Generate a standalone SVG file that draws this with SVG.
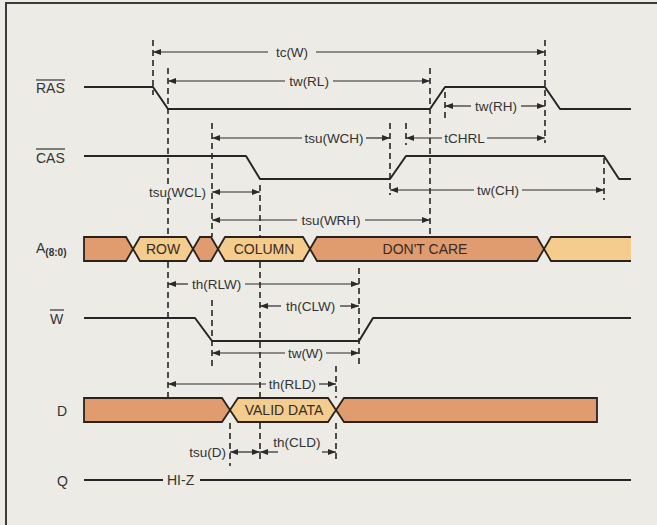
<svg xmlns="http://www.w3.org/2000/svg" width="657" height="525" viewBox="0 0 657 525">
<defs>
<marker id="ah" viewBox="0 0 8 6" refX="8" refY="3" markerWidth="8" markerHeight="6" markerUnits="userSpaceOnUse" orient="auto-start-reverse">
<path d="M0,0 L8,3 L0,6 z" fill="#2a2a2a"/>
</marker>
<style>
.sig{fill:none;stroke:#262626;stroke-width:2;stroke-linejoin:round}
.dash{fill:none;stroke:#262626;stroke-width:1.6;stroke-dasharray:6 4}
.dim{fill:none;stroke:#2a2a2a;stroke-width:1.2}
.ms{marker-start:url(#ah)}
.me{marker-end:url(#ah)}
.lbl{font-family:"Liberation Sans",Arial,sans-serif;font-size:14px;fill:#333}
.tl{font-family:"Liberation Sans",Arial,sans-serif;font-size:13.5px;fill:#333}
.bl{font-family:"Liberation Sans",Arial,sans-serif;font-size:14px;fill:#3a2a20;text-anchor:middle}
.dk{fill:#e09b6e;stroke:#2a221c;stroke-width:1.8;stroke-linejoin:miter}
.lt{fill:#f3cc8e;stroke:#2a221c;stroke-width:1.8;stroke-linejoin:miter}
.ov{stroke:#333;stroke-width:1.2}
.bg{fill:#ecebe6}
</style>
</defs>
<rect x="0" y="0" width="657" height="525" fill="#ecebe6"/>
<path d="M6,525 L6,3 L657,3" fill="none" stroke="#3a3a3a" stroke-width="2"/>

<g id="labels">
<g id="lbl-ras"><text class="lbl" x="36" y="93">RAS</text><line class="ov" x1="36" y1="80" x2="65" y2="80"/></g>
<g id="lbl-cas"><text class="lbl" x="36" y="163">CAS</text><line class="ov" x1="36" y1="149" x2="65" y2="149"/></g>
<g id="lbl-a"><text class="lbl" x="36" y="253">A<tspan font-size="10" font-weight="bold" dy="3">(8:0)</tspan></text></g>
<g id="lbl-w"><text class="lbl" x="50" y="324">W</text><line class="ov" x1="50" y1="310" x2="64" y2="310"/></g>
<g id="lbl-d"><text class="lbl" x="57" y="416">D</text></g>
<g id="lbl-q"><text class="lbl" x="57" y="486">Q</text></g>
</g>

<g id="sig-ras"><path class="sig" d="M84,87 L153,87 L168,109 L430,109 L445,87 L545,87 L560,109 L631,109"/></g>
<g id="sig-cas"><path class="sig" d="M84,156 L246,156 L260,179 L390,179 L406,156 L604,156 L619,179 L631,179"/></g>
<g id="sig-w"><path class="sig" d="M84,318 L195,318 L212,341 L359,341 L373,318 L631,318"/></g>
<g id="sig-q"><path class="sig" d="M84,480 L163,480 M200,480 L631,480" stroke-width="1.8"/><text class="lbl" x="167" y="485">HI-Z</text></g>

<g id="bus-a">
<polygon class="dk" points="84,237 126,237 133,249 126,261 84,261"/>
<polygon class="lt" points="133,249 140,237 186,237 193,249 186,261 140,261"/>
<polygon class="dk" points="193,249 200,237 211,237 218,249 211,261 200,261"/>
<polygon class="lt" points="218,249 225,237 303,237 310,249 303,261 225,261"/>
<polygon class="dk" points="310,249 317,237 537,237 544,249 537,261 317,261"/>
<polygon points="544,249 551,237 631,237 631,261 551,261" fill="#f3cc8e"/>
<path d="M631,237 L551,237 L544,249 L551,261 L631,261" fill="none" stroke="#2a221c" stroke-width="1.8"/>
<text class="bl" x="163" y="254">ROW</text>
<text class="bl" x="264" y="254">COLUMN</text>
<text class="bl" x="425" y="254">DON'T CARE</text>
</g>

<g id="bus-d">
<polygon class="dk" points="84,398 222,398 230,410 222,422 84,422"/>
<polygon class="lt" points="230,410 238,398 328,398 336,410 328,422 238,422"/>
<polygon class="dk" points="336,410 344,398 597,398 597,422 344,422"/>
<text class="bl" x="284" y="415">VALID DATA</text>
</g>

<g id="connectors">
<g id="dashes">
<line class="dash" x1="153" y1="40" x2="153" y2="95"/>
<line class="dash" x1="168" y1="68" x2="168" y2="237"/>
<line class="dash" x1="168" y1="262" x2="168" y2="398"/>
<line class="dash" x1="212" y1="123" x2="212" y2="237"/>
<line class="dash" x1="212" y1="300" x2="212" y2="370"/>
<line class="dash" x1="260" y1="185" x2="260" y2="237"/>
<line class="dash" x1="260" y1="262" x2="260" y2="398"/>
<line class="dash" x1="260" y1="423" x2="260" y2="460"/>
<line class="dash" x1="390" y1="123" x2="390" y2="195"/>
<line class="dash" x1="406" y1="123" x2="406" y2="145"/>
<line class="dash" x1="430" y1="68" x2="430" y2="237"/>
<line class="dash" x1="445" y1="92" x2="445" y2="120"/>
<line class="dash" x1="545" y1="40" x2="545" y2="143"/>
<line class="dash" x1="604" y1="158" x2="604" y2="200"/>
<line class="dash" x1="359" y1="268" x2="359" y2="368"/>
<line class="dash" x1="336" y1="366" x2="336" y2="398"/>
<line class="dash" x1="336" y1="423" x2="336" y2="462"/>
<line class="dash" x1="230" y1="423" x2="230" y2="466"/>
</g>
<g id="dims">
<line class="dim ms" x1="153" y1="52" x2="268" y2="52"/><line class="dim me" x1="316" y1="52" x2="545" y2="52"/>
<text class="tl" x="292" y="57" text-anchor="middle">tc(W)</text>

<line class="dim ms" x1="168" y1="81" x2="285" y2="81"/><line class="dim me" x1="333" y1="81" x2="430" y2="81"/>
<text class="tl" x="309" y="86" text-anchor="middle">tw(RL)</text>

<line class="dim ms" x1="445" y1="106" x2="471" y2="106"/><line class="dim me" x1="521" y1="106" x2="545" y2="106"/>
<text class="tl" x="496" y="111" text-anchor="middle">tw(RH)</text>

<line class="dim ms" x1="212" y1="138" x2="302" y2="138"/><line class="dim me" x1="366" y1="138" x2="390" y2="138"/>
<text class="tl" x="334" y="143" text-anchor="middle">tsu(WCH)</text>

<line class="dim ms" x1="406" y1="138" x2="442" y2="138"/><line class="dim me" x1="487" y1="138" x2="545" y2="138"/>
<text class="tl" x="464.5" y="143" text-anchor="middle">tCHRL</text>

<line class="dim ms me" x1="212" y1="192" x2="260" y2="192"/>
<rect class="bg" x="164" y="184" width="8" height="14"/>
<text class="tl" x="206" y="197" text-anchor="end">tsu(WCL)</text>

<line class="dim ms" x1="390" y1="190" x2="474" y2="190"/><line class="dim me" x1="522" y1="190" x2="604" y2="190"/>
<text class="tl" x="498" y="195" text-anchor="middle">tw(CH)</text>

<line class="dim ms" x1="212" y1="220" x2="297" y2="220"/><line class="dim me" x1="365" y1="220" x2="430" y2="220"/>
<text class="tl" x="331" y="225" text-anchor="middle">tsu(WRH)</text>

<line class="dim ms" x1="168" y1="284" x2="188" y2="284"/><line class="dim me" x1="245" y1="284" x2="359" y2="284"/>
<text class="tl" x="216.5" y="289" text-anchor="middle">th(RLW)</text>

<line class="dim ms" x1="260" y1="306" x2="281" y2="306"/><line class="dim me" x1="340" y1="306" x2="359" y2="306"/>
<text class="tl" x="310.5" y="311" text-anchor="middle">th(CLW)</text>

<line class="dim ms" x1="212" y1="353" x2="285" y2="353"/><line class="dim me" x1="326" y1="353" x2="359" y2="353"/>
<text class="tl" x="305.5" y="358" text-anchor="middle">tw(W)</text>

<line class="dim ms" x1="168" y1="384" x2="266" y2="384"/><line class="dim me" x1="319" y1="384" x2="336" y2="384"/>
<text class="tl" x="292.5" y="389" text-anchor="middle">th(RLD)</text>

<line class="dim ms me" x1="230" y1="452" x2="260" y2="452"/>
<text class="tl" x="226" y="457" text-anchor="end">tsu(D)</text>

<line class="dim ms" x1="260" y1="452" x2="278" y2="452"/><line class="dim me" x1="322" y1="452" x2="336" y2="452"/>
<text class="tl" x="297" y="447" text-anchor="middle">th(CLD)</text>
</g>
</g>
</svg>
